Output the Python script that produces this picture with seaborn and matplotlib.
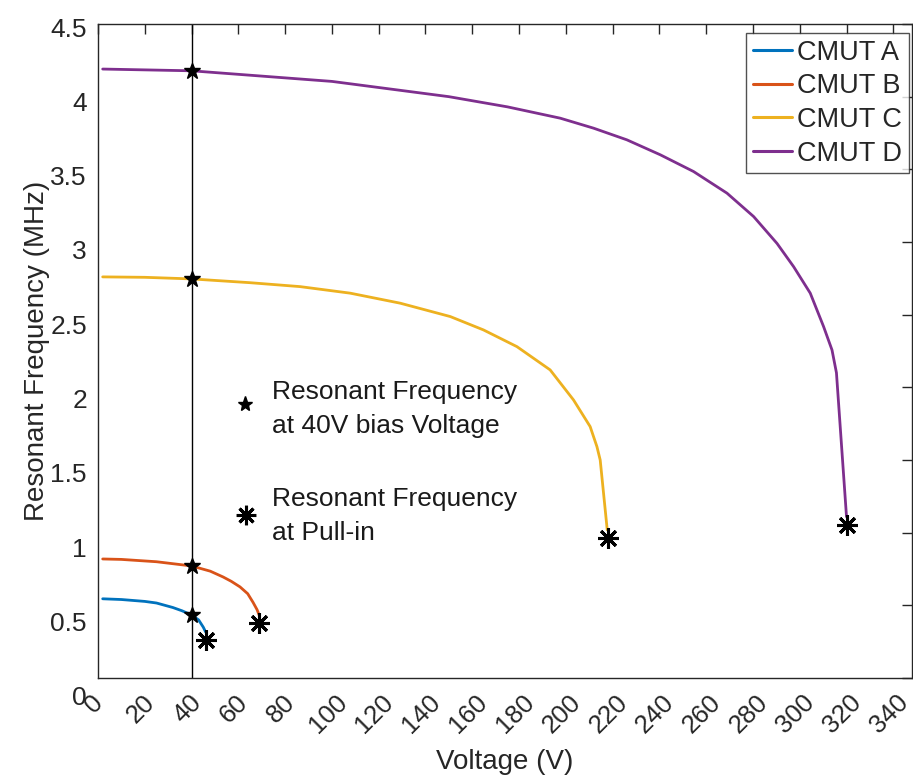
import matplotlib
matplotlib.use("Agg")
import matplotlib.pyplot as plt
import matplotlib.transforms as mtransforms
import seaborn as sns
import pandas as pd

# ---- data ----
a_x = [2, 10, 20, 25, 32, 36, 40, 43, 45, 46]
a_y = [0.545, 0.540, 0.527, 0.516, 0.485, 0.462, 0.433, 0.40, 0.35, 0.317]

b_x = [2, 10, 25, 40, 48, 53.5, 57, 60.7, 64, 66.3, 68, 68.9]
b_y = [0.819, 0.816, 0.80, 0.771, 0.735, 0.695, 0.665, 0.627, 0.58, 0.52, 0.47, 0.433]

c_x = [2, 20, 40, 65, 86.4, 107.8, 129.2, 150.6, 164.8, 179.1, 193.3, 203.3, 210.4, 213.3, 214.7, 217.7]
c_y = [2.76, 2.757, 2.746, 2.72, 2.693, 2.648, 2.579, 2.487, 2.395, 2.28, 2.12, 1.913, 1.73, 1.592, 1.50, 1.02]

d_x = [2, 40, 100, 150, 175, 197.6, 211.9, 226.1, 240.4, 254.6, 268.9, 280.3, 290.3, 297.4, 304.5, 310.2, 313.8, 315.7, 320]
d_y = [4.19, 4.178, 4.105, 4.0, 3.93, 3.852, 3.783, 3.703, 3.60, 3.485, 3.336, 3.175, 2.99, 2.83, 2.648, 2.418, 2.257, 2.10, 1.11]

names = ["CMUT A", "CMUT B", "CMUT C", "CMUT D"]
colors = ["#0072BD", "#D95319", "#EDB120", "#7E2F8E"]

bias_x = [40, 40, 40, 40]
bias_y = [0.433, 0.771, 2.746, 4.178]
pull_x = [46, 69, 218, 320]
pull_y = [0.26, 0.378, 0.963, 1.05]

xticks = list(range(0, 341, 20))
yticks = [0, 0.5, 1, 1.5, 2, 2.5, 3, 3.5, 4, 4.5]
ytick_labels = ["0", "0.5", "1", "1.5", "2", "2.5", "3", "3.5", "4", "4.5"]

# ---- build table ----
frames = []
for n, xs, ys in zip(names, [a_x, b_x, c_x, d_x], [a_y, b_y, c_y, d_y]):
    frames.append(pd.DataFrame({"Voltage": xs, "Freq": ys, "Device": n}))
df = pd.concat(frames, ignore_index=True)

sns.set_style("white")
plt.rcParams["font.family"] = ["Liberation Sans", "DejaVu Sans"]

fig = plt.figure(figsize=(9.13, 7.78), dpi=100)
ax = fig.add_axes([98 / 913, 1 - 678 / 778, (912 - 98) / 913, (678 - 24) / 778])

ax.axvline(40, color="black", lw=1.0, zorder=1)

sns.lineplot(data=df, x="Voltage", y="Freq", hue="Device", palette=colors,
             hue_order=names, sort=False, estimator=None, lw=2.0, ax=ax, zorder=2)

ax.plot(bias_x, bias_y, linestyle="none", marker="*", markersize=12,
        color="black", zorder=4)
ax.plot(pull_x, pull_y, linestyle="none", marker=(8, 2, 0), markersize=15,
        markeredgewidth=2.2, color="black", zorder=4)

# annotations
ax.plot([62.9], [1.886], linestyle="none", marker="*", markersize=11, color="black")
ax.plot([63.3], [1.12], linestyle="none", marker=(8, 2, 0), markersize=14,
        markeredgewidth=2.2, color="black")
ax.text(74.5, 1.851, "Resonant Frequency\nat 40V bias Voltage", fontsize=19,
        va="center", ha="left", color="#1a1a1a", linespacing=1.5)
ax.text(74.5, 1.115, "Resonant Frequency\nat Pull-in", fontsize=19,
        va="center", ha="left", color="#1a1a1a", linespacing=1.5)

ax.set_xlim(0, 348)
ax.set_ylim(0, 4.5)
ax.set_xticks(xticks)
ax.set_xticklabels([str(v) for v in xticks], rotation=45, ha="center")
ax.set_yticks(yticks)
ax.set_yticklabels(ytick_labels)

ax.tick_params(direction="in", length=7, width=1, colors="#262626",
               labelsize=19, top=True, right=True, labelcolor="#262626")
ax.tick_params(axis="x", pad=9, labelsize=18.5)
ax.tick_params(axis="y", pad=8)
for s in ax.spines.values():
    s.set_visible(True)
    s.set_color("#262626")
    s.set_linewidth(1.0)

# the reference's y tick labels sit slightly below their ticks
for v, lab in zip(yticks, ax.get_yticklabels()):
    off = (3 + (4.5 - v) * 3.3) / 100.0
    lab.set_transform(lab.get_transform() +
                      mtransforms.ScaledTranslation(0, -off, fig.dpi_scale_trans))
# and the x tick labels sit a little to the left of their ticks
for lab in ax.get_xticklabels():
    lab.set_transform(lab.get_transform() +
                      mtransforms.ScaledTranslation(-0.04, 0, fig.dpi_scale_trans))

ax.set_xlabel("Voltage (V)", fontsize=20, color="#262626", labelpad=8)
ax.set_ylabel("Resonant Frequency (MHz)", fontsize=20, color="#262626", labelpad=0)

leg = ax.legend(loc="upper right", bbox_to_anchor=(0.9963, 0.9862),
                fontsize=19.5, frameon=True, fancybox=False,
                edgecolor="#262626", handlelength=1.45, handletextpad=0.2,
                borderpad=0.25, labelspacing=0.28, borderaxespad=0.0)
leg.get_frame().set_linewidth(1.0)
for line in leg.get_lines():
    line.set_linewidth(2.2)

fig.savefig("out.png", dpi=100)
